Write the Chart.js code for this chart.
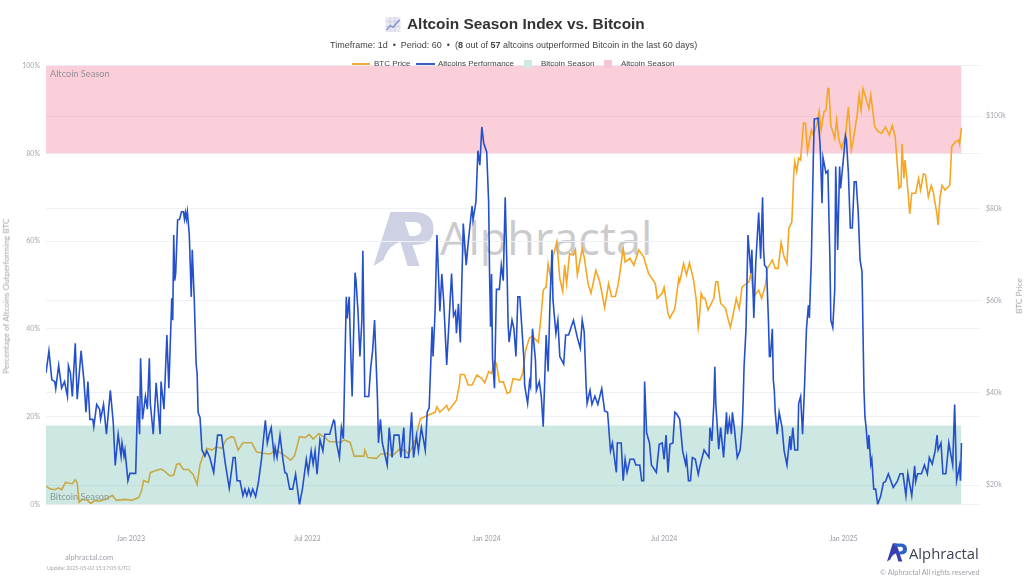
<!DOCTYPE html>
<html>
<head>
<meta charset="utf-8">
<script src="https://cdn.jsdelivr.net/npm/chart.js@4/dist/chart.umd.min.js"></script>
<style>
  html, body { margin: 0; padding: 0; background: #fff; }
  #wrap { position: relative; width: 1024px; height: 576px; overflow: hidden; font-family: "Liberation Sans", Arial, sans-serif; }
  #wrap > * { position: absolute; }
  #chart { left: 0; top: 0; z-index: 2; }
  .t { white-space: nowrap; line-height: 1; z-index: 3; }
  .soft { font-family: Lato, sans-serif; color: #a3a3ad; }
  .swatch { z-index: 3; }
  #watermark { z-index: 1; }
</style>
</head>
<body>
<div id="wrap">
  <svg style="left:385px;top:17px;z-index:3" width="16" height="15" viewBox="0 0 16 16">
    <rect width="16" height="16" fill="#e9e9f2"/>
    <path d="M0 5H16M0 10H16M5 0V16M10 0V16" stroke="#cfcfe0" stroke-width="1"/>
    <path d="M1 14L5 9L8 11L15 3" fill="none" stroke="#7c93dd" stroke-width="1.6"/>
  </svg>
  <div class="t" style="left:407px;top:16px;font-size:15.4px;font-weight:bold;color:#333">Altcoin Season Index vs. Bitcoin</div>
  <div class="t" style="left:330px;top:41px;font-size:9px;color:#444">Timeframe: 1d &nbsp;•&nbsp; Period: 60 &nbsp;•&nbsp; (<b>8</b> out of <b>57</b> altcoins outperformed Bitcoin in the last 60 days)</div>

  <div class="swatch" style="left:352px;top:63px;width:18px;height:1.5px;background:#f0ac3c"></div>
  <div class="t" style="left:374px;top:60px;font-size:8px;color:#444">BTC Price</div>
  <div class="swatch" style="left:416px;top:63px;width:19px;height:1.5px;background:#3a5fc4"></div>
  <div class="t" style="left:438px;top:60px;font-size:8px;color:#444">Altcoins Performance</div>
  <div class="swatch" style="left:524px;top:60px;width:8px;height:8px;background:#cfe8e3"></div>
  <div class="t" style="left:541px;top:60px;font-size:8px;color:#444">Bitcoin Season</div>
  <div class="swatch" style="left:604px;top:60px;width:8px;height:8px;background:#f3c6d2"></div>
  <div class="t" style="left:621px;top:60px;font-size:8px;color:#444">Altcoin Season</div>

  <div class="t soft" style="left:50px;top:69px;font-size:9.2px;color:#928f98">Altcoin Season</div>
  <div class="t soft" style="left:50px;top:492px;font-size:9.2px;color:#8b9a98">Bitcoin Season</div>

  <div class="t soft" style="left:6px;top:296px;font-size:8.3px;transform:translate(-50%,-50%) rotate(-90deg)">Percentage of Altcoins Outperforming BTC</div>
  <div class="t soft" style="left:1019px;top:296px;font-size:8.3px;transform:translate(-50%,-50%) rotate(-90deg)">BTC Price</div>

  <svg id="watermark" style="left:373px;top:212px" width="61" height="54" viewBox="0 0 60 54">
    <path d="M0 54L17 0H28L46 54H34L27 30Q15 33 10 48Z" fill="#cdd1e3"/>
    <path d="M17 0H40Q60 0 60 17Q60 33 40 33H36L33 24H40Q48 23 48 17Q48 10 40 10H26Z" fill="#cdd1e3"/>
  </svg>
  <div class="t" id="wmtext" style="left:440px;top:215px;font-family:'Open Sans',sans-serif;font-size:45px;color:#cbcbce;z-index:1">Alphractal</div>

  <div class="t soft" style="left:65px;top:554px;font-size:7.6px">alphractal.com</div>
  <div class="t soft" style="left:47px;top:566px;font-size:5.2px">Update: 2025-05-02 15:17:05 (UTC)</div>
  <svg style="left:887px;top:543px;z-index:3" width="20" height="19" viewBox="0 0 60 54">
    <path d="M0 54L17 0H28L46 54H34L27 30Q15 33 10 48Z" fill="#3a3fae"/>
    <path d="M17 0H40Q60 0 60 17Q60 33 40 33H36L33 24H40Q48 23 48 17Q48 10 40 10H26Z" fill="#2b5fc9"/>
  </svg>
  <div class="t" style="left:909px;top:546px;font-family:'Open Sans',sans-serif;font-size:14.8px;color:#3d4252">Alphractal</div>
  <div class="t soft" style="left:880px;top:569px;font-size:7.3px">© Alphractal All rights reserved</div>

  <canvas id="chart" width="1024" height="576"></canvas>
</div>

<script>
// days counted from 2022-10-06, the first day on the chart
const monthTicks = [87, 268, 452, 634, 818]
const monthLabels = ["Jan 2023", "Jul 2023", "Jan 2024", "Jul 2024", "Jan 2025"]
const percentTicks = [0, 20, 40, 60, 80, 100]
const priceTicks = [20, 40, 60, 80, 100]

const seasonDays = [0, 939]
const bitcoinSeasonTop = [18, 18]
const altcoinSeasonTop = [100, 100]
const altcoinSeasonBottom = 80

const altDays = [
  0,3,6,9,10,13,16,19,22,23,
  25,27,30,32,36,39,41,43,45,48,
  49,52,55,56,59,62,66,69,71,74,
  77,78,80,81,84,86,92,94,96,97,
  99,102,104,106,107,110,113,117,118,121,
  124,126,129,130,131,132,133,135,137,139,
  141,142,143,144,145,147,149,150,152,154,
  155,156,158,160,163,165,168,172,176,180,
  184,188,192,194,196,199,202,204,206,208,
  210,212,215,218,221,225,227,229,231,234,
  235,237,240,243,245,247,250,253,256,260,
  263,267,269,272,274,276,278,281,284,286,
  291,295,296,298,301,303,305,308,309,311,
  312,314,317,318,320,322,324,325,327,331,
  333,335,337,340,341,343,345,348,350,352,
  355,357,362,364,367,368,372,375,377,380,
  382,385,389,391,393,396,397,399,401,404,
  406,408,411,416,418,420,421,423,425,428,
  431,433,437,438,441,443,445,447,449,452,
  454,455,456,457,458,460,462,465,467,469,
  471,473,474,475,478,480,482,484,486,490,
  491,494,496,497,499,502,503,506,508,510,
  513,515,517,519,520,523,525,527,531,533,
  536,538,541,545,548,550,552,554,555,558,
  560,563,566,570,573,576,579,581,585,586,
  590,592,594,596,599,603,605,609,611,613,
  614,616,619,621,626,629,632,634,636,638,
  640,643,645,647,650,653,656,657,659,661,
  663,666,669,671,675,680,681,683,685,686,
  687,690,692,695,698,699,701,703,704,706,
  709,712,714,715,716,718,720,723,724,726,
  728,731,733,735,736,737,739,741,742,743,
  745,746,747,748,750,752,755,757,760,763,
  764,766,768,771,772,774,776,778,780,782,
  783,785,787,788,792,794,796,797,800,802,
  804,805,807,809,810,812,814,815,818,820,
  821,823,825,827,829,831,832,833,835,837,
  839,840,841,843,844,846,847,849,851,853,
  856,859,861,864,869,873,876,879,882,884,
  888,891,892,894,898,901,904,906,909,912,
  914,915,918,920,923,926,930,932,934,937,
  938,939,
]
const altValues = [
  30,35,28.4,28,26.4,31.7,26.5,28,24.6,31.6,
  30,24.6,36.7,24,35,28,21,28,19.4,19.4,
  17.7,22.8,21.7,19.4,22.8,16,26,18.6,8.9,16,
  11,14,11,12.4,5.4,7.1,7.1,24.7,16,33.3,
  19.4,24.7,21.7,33.3,23,16,27.7,16,28,21.7,
  38.6,26.5,47,42,61.4,51,52.6,64.8,65,66.7,
  66.7,65,66.5,65,66.7,61.4,47.3,58,47.3,32,
  30,21,19.8,12.4,11,12.2,10.7,7.3,15.8,15.8,
  9.2,3.7,10.7,10.7,5.4,5.4,2,3.5,2,3.5,
  2,3.5,1.8,5.2,10.3,19.2,14,16,17.5,11,
  13,10.7,15.8,10.3,7.3,7,3.5,3.5,6.9,0,
  3.5,10.3,7.3,12.2,9.2,12.2,6.9,14.8,12.2,16,
  16,19.2,19,14,10.7,17.5,15,47.3,42.4,47.3,
  39,24.6,52.8,51,44,33.7,42,57.8,24.6,24.6,
  31,35,42,24,14,19.4,14,11,9,17.5,
  10.7,15.8,15.8,10.7,17.5,10.7,10.7,21,10.7,15.6,
  12.2,17.5,12.4,21,22,40.5,33.7,43.5,61.4,44,
  52.5,46,31.8,52.6,43,44,39,45.7,36.9,64,
  54.5,59.5,68,64.8,69,80.6,77.3,86,82.3,80.3,
  69,52,40.5,52.5,33.3,26.5,49,49,54.5,51,
  70,52,41,37,42,40,33.7,47.3,47.3,33.7,
  27,23,28,27,40,33,26,28,24.7,17.7,
  38.6,30.3,46.6,58,46.6,39,42,33.7,32,38.6,
  38.6,40,42,38,35.6,42,39.4,27,23,26,
  22.8,24.7,22.8,26.4,21.3,21,12.2,14,7.3,14,
  14,5.4,10.3,7.3,10.3,10.3,9,9,5.4,5.4,
  28,16.4,14,9,7.3,13.7,14,10.3,15.8,7.3,
  13.7,14,21,20.6,19.4,12.2,9.2,10.7,5.4,5.4,
  10.7,10.3,6.9,9,12.4,10.7,17.5,14.5,23,31.4,
  23,12.6,17.5,10.7,21,16,19.4,16,21,17.5,
  10.7,12.4,17.5,23,31.4,40,61.4,52.7,58,42.5,
  55,66.5,56,70,58,54.5,54,42,33.7,33.7,
  40,28.4,26,21,16,21,17.5,12.4,9,15.6,
  12.4,17.5,12.4,12.4,23,24.6,16,26.8,40,45.4,
  42.5,55.7,78.5,87.8,88,82,68.6,79,75.5,76,
  56.4,42,40.3,48.9,77,58,77,72,79,84,
  83,75.5,63,63,73.5,73.5,70,67,55.7,53,
  26,20,17.9,12.6,15.8,9.2,10.3,3.5,3.5,0,
  1.8,5,5.2,7,3.9,5.2,7,7,2,7,
  2,8.8,5.2,7,7,9,7,10.7,9.2,12.2,
  15.8,12.4,14,7,7,14,9,22.8,5.4,8.8,
  5.4,14,
]

const btcDays = [
  0,4,9,13,16,20,24,27,30,32,
  34,37,42,46,50,55,62,68,72,81,
  88,95,98,100,105,107,113,118,122,127,
  131,134,137,141,146,151,155,158,161,165,
  170,175,180,185,190,193,197,202,207,211,
  216,223,230,235,243,251,255,260,266,270,
  274,280,286,291,298,302,306,312,316,326,
  327,330,339,343,350,355,362,368,372,379,
  382,384,391,399,401,404,411,413,421,424,
  425,429,433,437,442,447,450,454,457,460,
  462,465,469,473,476,479,486,489,492,496,
  499,505,508,510,513,515,518,520,524,526,
  527,530,532,534,537,541,543,545,550,552,
  556,559,564,568,573,577,580,584,587,589,
  592,594,599,603,608,613,618,625,627,632,
  634,638,640,645,649,650,654,657,660,664,
  667,669,670,672,674,676,679,685,687,689,
  692,697,699,702,705,708,711,714,721,723,
  726,731,734,738,740,745,748,751,754,757,
  760,762,765,767,768,770,772,774,777,779,
  781,785,787,791,793,795,798,800,802,803,
  805,809,811,813,816,820,823,826,828,832,
  834,836,838,840,844,846,850,854,857,861,
  865,868,871,875,877,878,880,881,883,886,
  888,892,895,897,900,902,905,908,910,914,
  915,917,919,922,927,929,933,936,937,939,
]
const btcValues = [
  19.8,19.2,19,19.4,19,20.6,20.4,20.3,21.2,20.5,
  16.3,16.9,16.8,16,16.7,16.5,17,17.8,16.7,16.9,
  16.7,17.3,18.7,21,20.6,22.7,23.2,23.5,23,22,
  22.2,24.5,24.7,23.4,23.4,22.3,20.1,24.5,26.3,28,
  27.6,28.3,28,29.9,30.5,30.3,27.6,29.2,29.2,29.2,
  27.2,26.9,26.7,27.7,26.7,25.4,26.4,30.5,30.3,31,
  30,31.2,30.3,29.4,29.4,29.2,29.8,29.3,26.3,26.3,
  27.6,26,25.8,26.7,26.9,26.3,27.7,27.6,26.7,29.9,
  32.8,34.4,35.1,35.8,37,35.8,37.3,36.2,38.4,41.8,
  44,44,41.7,41.7,43.9,43.1,42.2,44.6,44.2,46.8,
  46.4,42.4,42.4,39.9,40.2,43.1,42.8,44.2,49.3,52,
  52.2,51,57.2,62.3,63,68,64.5,69.5,72.8,67.4,
  64.8,62,67.7,63.7,70.2,69.9,71,65.6,71.3,69.5,
  63.7,61.6,66.6,64.1,58.5,63.7,60.9,60.9,63.7,66.6,
  71.3,68.4,69.2,67.7,71,69.5,65.9,63.7,60.5,61.6,
  62.9,57.2,56.2,58.3,64.8,64.1,68,65.6,68.2,64.8,
  60.1,54.2,55.8,61.6,60.5,60.5,58,60.5,64.1,64.1,
  59.4,58.3,56.5,54.2,57.2,60.5,58.3,63,64.1,65.9,
  60.9,62.3,60.5,63.4,67,68.8,67,67,72.6,69.5,
  68,75.7,77.1,87.6,90.1,88,90.9,90.5,98.6,98.4,
  92.3,97,95.9,98.5,101,97,101,101.3,106,106,
  98,95.2,99.2,95.2,93,95.9,102,92.7,94.8,100.3,
  104.6,101.3,106,104.6,101.7,104.6,97.7,96.6,96.3,97.7,
  95.9,98,95.6,84.4,84.8,94,86.5,90.5,86.5,78.8,
  83.3,83.3,86.5,84,87.5,87.3,82.5,85,83.6,78.6,
  76.4,82.5,85,84,85,93.4,94.5,94.8,94,97.5,
]

const toPoints = (xs, ys) => xs.map((x, i) => ({ x: x, y: ys[i] }))

const tickColor = "#a6a6b2"
const tickFont = { family: "Lato", size: 7 }
const gridColor = "#eef1f5"

const chart = new Chart(document.getElementById("chart"), {
  type: "line",
  data: {
    datasets: [
      {
        label: "Altcoins Performance",
        data: toPoints(altDays, altValues),
        yAxisID: "y",
        borderColor: "#2450cc",
        borderWidth: 1.6,
        pointRadius: 0,
        order: 1,
      },
      {
        label: "Bitcoin Season",
        data: toPoints(seasonDays, bitcoinSeasonTop),
        yAxisID: "y",
        borderWidth: 0,
        pointRadius: 0,
        backgroundColor: "rgba(90, 180, 160, 0.3)",
        fill: "origin",
        order: 2,
      },
      {
        label: "BTC Price",
        data: toPoints(btcDays, btcValues),
        yAxisID: "y1",
        borderColor: "#f5a623",
        borderWidth: 1.6,
        pointRadius: 0,
        order: 3,
      },
      {
        label: "Altcoin Season",
        data: toPoints(seasonDays, altcoinSeasonTop),
        yAxisID: "y",
        borderWidth: 0,
        pointRadius: 0,
        backgroundColor: "rgba(240, 110, 140, 0.33)",
        fill: { value: altcoinSeasonBottom },
        order: 4,
      },
    ],
  },
  options: {
    responsive: false,
    animation: false,
    devicePixelRatio: 1,
    layout: { padding: { top: 65.5 } },
    plugins: {
      legend: { display: false },
      tooltip: { enabled: false },
    },
    scales: {
      x: {
        type: "linear",
        min: 0,
        max: 958,
        grid: { display: false },
        border: { display: false },
        afterFit: (s) => { s.height = 71.5 },
        afterBuildTicks: (s) => { s.ticks = monthTicks.map((v) => ({ value: v })) },
        ticks: {
          color: "#9a9aa6",
          font: tickFont,
          padding: 22,
          maxRotation: 0,
          autoSkip: false,
          callback: (value) => monthLabels[monthTicks.indexOf(value)],
        },
      },
      y: {
        min: 0,
        max: 100,
        position: "left",
        grid: { color: gridColor, drawTicks: false },
        border: { display: false },
        afterFit: (s) => { s.width = 46 },
        afterBuildTicks: (s) => { s.ticks = percentTicks.map((v) => ({ value: v })) },
        ticks: {
          color: tickColor,
          font: tickFont,
          padding: 6,
          callback: (value) => value + "%",
        },
      },
      y1: {
        min: 15.8,
        max: 111,
        position: "right",
        grid: { color: gridColor, drawTicks: false },
        border: { display: false },
        afterFit: (s) => { s.width = 44 },
        afterBuildTicks: (s) => { s.ticks = priceTicks.map((v) => ({ value: v })) },
        ticks: {
          color: tickColor,
          font: tickFont,
          padding: 6,
          callback: (value) => "$" + value + "k",
        },
      },
    },
  },
})
</script>
</body>
</html>
